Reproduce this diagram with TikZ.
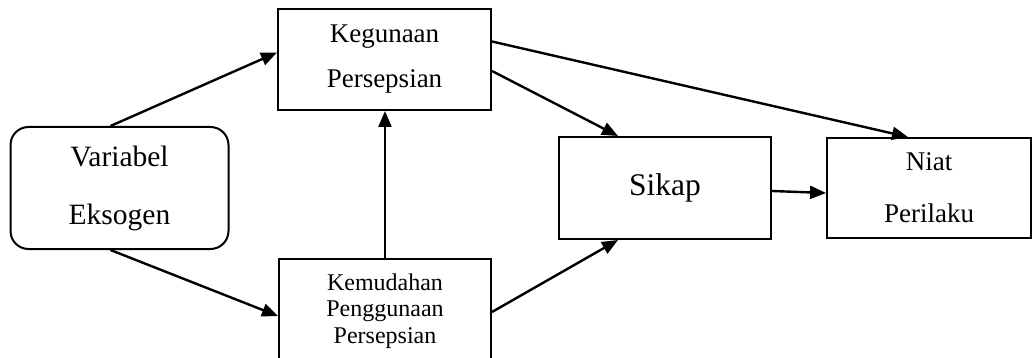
\documentclass[tikz,border=0pt]{standalone}
\usepackage{fontspec}
\setmainfont{Liberation Serif}
\usetikzlibrary{arrows.meta}
\begin{document}
\begin{tikzpicture}[x=1pt,y=-1pt,
  box/.style={draw, line width=2pt, align=center, inner sep=0pt, text=black},
  conn/.style={line width=2.4pt, -{Triangle[length=16pt,width=13pt]}}]
\useasboundingbox (0,0) rectangle (1033,358);
\node[box, rounded corners=18pt, minimum width=218pt, minimum height=122pt,
      font=\fontsize{29.5}{58}\selectfont] (var) at (119.5,188) {Variabel\\Eksogen};
\node[box, minimum width=213pt, minimum height=101pt,
      font=\fontsize{27}{45}\selectfont] (keg) at (384.5,59.5) {Kegunaan\\Persepsian};
\node[box, minimum width=212pt, minimum height=104pt,
      font=\fontsize{24}{26.5}\selectfont] (kem) at (385,311) {Kemudahan\\Penggunaan\\Persepsian};
\node[box, minimum width=212pt, minimum height=102pt,
      font=\fontsize{31.5}{36}\selectfont] (sik) at (665,188) {Sikap};
\node[box, minimum width=204pt, minimum height=100pt,
      font=\fontsize{27}{52}\selectfont] (niat) at (929,188) {Niat\\Perilaku};
\draw[conn] ([xshift=-9pt]var.north) -- ([yshift=7pt]keg.west);
\draw[conn] ([xshift=-9pt]var.south) -- ([yshift=-5pt]kem.west);
\draw[conn] (kem.north) -- (kem.north |- keg.south);
\draw[conn] ([yshift=40pt]keg.south east) -- ([xshift=-47pt]sik.north);
\draw[conn] ([yshift=18pt]keg.east) -- ([xshift=-21pt]niat.north);
\draw[conn] ([yshift=-1pt]kem.east) -- ([xshift=-47pt]sik.south);
\draw[conn] ([yshift=-3pt]sik.east) -- ([yshift=-5pt]niat.west);
\end{tikzpicture}
\end{document}
